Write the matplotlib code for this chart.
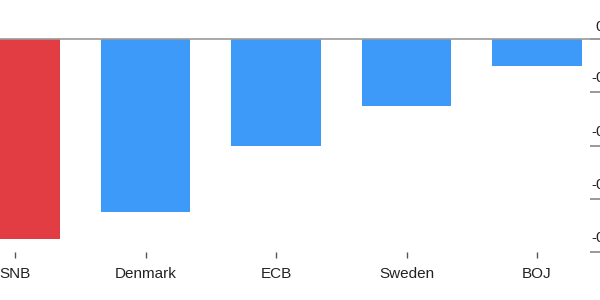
import matplotlib
matplotlib.use("Agg")
import matplotlib.pyplot as plt

banks = ["SNB", "Denmark", "ECB", "Sweden", "BOJ"]
rates = [-0.75, -0.65, -0.40, -0.25, -0.10]
colors = ["#E23D43", "#3D9AF8", "#3D9AF8", "#3D9AF8", "#3D9AF8"]
yticks = [0, -0.2, -0.4, -0.6, -0.8]
ytick_labels = ["0", "-0.2", "-0.4", "-0.6", "-0.8"]

plt.rcParams['font.family'] = ['Liberation Sans', 'DejaVu Sans']

fig = plt.figure(figsize=(6, 3), dpi=100)
ax = fig.add_axes([0, 48/300, 590/600, 252/300])

x = list(range(len(banks)))
ax.bar(x, rates, width=0.685, color=colors, zorder=2)
ax.axhline(0, color="#999999", lw=1.2, zorder=3)

ax.set_xlim(-0.115, 4.406)
ax.set_ylim(-0.8, 0.147)

for s in ax.spines.values():
    s.set_visible(False)

ax.set_xticks(x)
ax.set_xticklabels(banks, fontsize=11, color="#222222")
ax.tick_params(axis="x", length=4, width=1, color="#555555", pad=7)

ax.yaxis.tick_right()
ax.set_yticks(yticks)
ax.set_yticklabels([])
ax.tick_params(axis="y", length=10, width=1.2, color="#888888")
for v, lab in zip(yticks, ytick_labels):
    dx = 1 if lab.startswith("-") else 4
    dy = 5 if v != 0 else 4
    ax.annotate(lab, xy=(1, v), xycoords=("axes fraction", "data"),
                xytext=(dx, dy), textcoords="offset points",
                ha="left", va="bottom", fontsize=11, color="#222222",
                annotation_clip=False)

fig.savefig("out.png", dpi=100)
